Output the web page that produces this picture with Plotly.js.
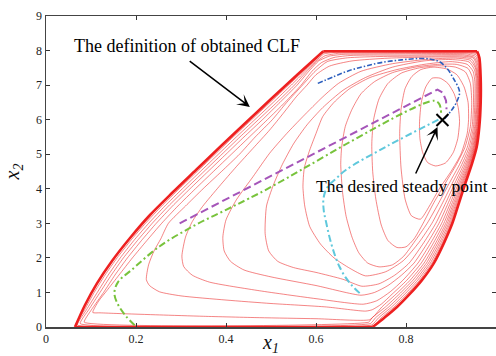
<!DOCTYPE html>
<html><head><meta charset="utf-8">
<script src="https://cdn.plot.ly/plotly-3.0.1.min.js"></script>
<style>html,body{margin:0;padding:0;background:#fff}#chart{width:496px;height:356px}</style>
</head><body><div id="chart"></div>
<script>
// ---- outer boundary of the CLF domain ----
const bndX = [0.0644,0.0867,0.1133,0.1467,0.1867,0.2311,0.28,0.3333,0.3889,0.4444,0.5,0.5578,0.6162,0.958,0.963,0.966,0.966,0.963,0.957,0.946,0.933,0.918,0.903,0.885,0.862,0.835,0.808,0.78,0.752,0.726,0.0644];
const bndY = [0,0.637,1.262,1.91,2.575,3.241,3.877,4.543,5.237,5.917,6.597,7.292,7.98,7.98,7.8,7.2,6.5,5.8,5.2,4.7,4.2,3.6,3.0,2.45,1.85,1.35,0.95,0.58,0.27,0,0];
// ---- level curves close to the boundary ----
const b1x = [0.066,0.086,0.107,0.131,0.158,0.188,0.221,0.257,0.296,0.336,0.376,0.416,0.457,0.498,0.539,0.572,0.597,0.613,0.63,0.95,0.961,0.964,0.9652,0.9652,0.9622,0.956,0.9446,0.9312,0.9158,0.9002,0.8816,0.8578,0.83,0.8022,0.7736,0.7452,0.727,0.066];
const b1y = [0.03,0.5,1.0,1.5,2.0,2.5,3.0,3.5,4.0,4.5,5.0,5.5,6.0,6.5,7.0,7.4,7.7,7.92,7.968,7.97,7.92,7.75,7.2,6.5,5.8,5.2,4.7,4.2,3.6,3.0,2.45,1.85,1.35,0.95,0.58,0.27,0.03,0.03];
const b2x = [0.07,0.09,0.114,0.138,0.165,0.195,0.228,0.264,0.303,0.343,0.383,0.423,0.464,0.505,0.545,0.576,0.600,0.617,0.64,0.945,0.959,0.963,0.9645,0.9645,0.9615,0.955,0.9435,0.9297,0.9138,0.8978,0.8786,0.8542,0.8257,0.7972,0.768,0.7393,0.724,0.07];
const b2y = [0.06,0.5,1.0,1.5,2.0,2.5,3.0,3.5,4.0,4.5,5.0,5.5,6.0,6.5,7.0,7.4,7.7,7.9,7.945,7.948,7.9,7.7,7.2,6.5,5.8,5.2,4.7,4.2,3.6,3.0,2.45,1.85,1.35,0.95,0.58,0.27,0.06,0.06];
const b3x = [0.076,0.095,0.12,0.145,0.172,0.203,0.236,0.272,0.311,0.351,0.391,0.431,0.472,0.513,0.552,0.580,0.603,0.62,0.65,0.94,0.957,0.962,0.9637,0.9637,0.9607,0.954,0.9421,0.9279,0.9116,0.895,0.8751,0.85,0.8207,0.7914,0.7616,0.7324,0.721,0.076];
const b3y = [0.1,0.5,1.0,1.5,2.0,2.5,3.0,3.5,4.0,4.5,5.0,5.5,6.0,6.5,7.0,7.4,7.7,7.85,7.92,7.925,7.87,7.65,7.2,6.5,5.8,5.2,4.7,4.2,3.6,3.0,2.45,1.85,1.35,0.95,0.58,0.27,0.1,0.1];
const b4x = [0.085,0.101,0.128,0.153,0.181,0.212,0.245,0.281,0.32,0.36,0.4,0.44,0.481,0.52,0.558,0.584,0.606,0.63,0.66,0.935,0.955,0.961,0.9628,0.9628,0.9598,0.9528,0.9406,0.926,0.909,0.8918,0.8712,0.8454,0.8152,0.785,0.7544,0.7248,0.717,0.085];
const b4y = [0.14,0.5,1.0,1.5,2.0,2.5,3.0,3.5,4.0,4.5,5.0,5.5,6.0,6.5,7.0,7.4,7.7,7.84,7.89,7.9,7.83,7.6,7.2,6.5,5.8,5.2,4.7,4.2,3.6,3.0,2.45,1.85,1.35,0.95,0.58,0.27,0.14,0.14];
// ---- inner level curves (C1 innermost) ----
const c1x = [0.830,0.834,0.844,0.858,0.876,0.893,0.907,0.916,0.919,0.915,0.905,0.888,0.866,0.848,0.837,0.831,0.830];
const c1y = [5.9,6.5,6.95,7.2,7.2,7.05,6.75,6.35,5.95,5.45,5.05,4.75,4.66,4.76,5.05,5.45,5.9];
const c2x = [0.786,0.789,0.798,0.813,0.833,0.86,0.89,0.913,0.929,0.938,0.939,0.936,0.922,0.90,0.874,0.852,0.832,0.812,0.798,0.789,0.786];
const c2y = [5.6,6.3,6.9,7.25,7.45,7.52,7.47,7.3,6.95,6.5,6.0,5.6,5.0,4.5,4.0,3.5,3.12,3.22,3.7,4.6,5.6];
const c3x = [0.724,0.728,0.74,0.76,0.79,0.83,0.87,0.91,0.932,0.943,0.946,0.943,0.931,0.912,0.889,0.862,0.838,0.818,0.80,0.78,0.76,0.745,0.733,0.726,0.724];
const c3y = [5.3,6.0,6.6,7.05,7.35,7.5,7.56,7.52,7.38,7.05,6.5,5.8,5.2,4.7,4.2,3.6,3.0,2.55,2.32,2.3,2.5,2.95,3.7,4.5,5.3];
const c4x = [0.655,0.657,0.665,0.68,0.70,0.73,0.77,0.82,0.87,0.912,0.938,0.948,0.95,0.947,0.9362,0.9188,0.8978,0.8732,0.847,0.818,0.795,0.77,0.74,0.715,0.695,0.68,0.667,0.659,0.655];
const c4y = [4.7,5.2,5.8,6.3,6.75,7.1,7.36,7.52,7.6,7.6,7.48,7.2,6.5,5.8,5.2,4.7,4.2,3.6,3.0,2.45,2.05,1.8,1.74,1.85,2.15,2.6,3.2,3.9,4.7];
const c5x = [0.571,0.574,0.586,0.60,0.615,0.64,0.675,0.72,0.78,0.84,0.9,0.936,0.949,0.953,0.953,0.95,0.9401,0.9239,0.9044,0.8816,0.8575,0.829,0.794,0.755,0.71,0.675,0.64,0.61,0.586,0.575,0.571];
const c5y = [4.06,4.6,5.12,5.6,6.09,6.5,6.9,7.22,7.45,7.6,7.68,7.6,7.4,7.1,6.5,5.8,5.2,4.7,4.2,3.6,3.0,2.45,1.92,1.6,1.48,1.7,2.0,2.4,2.91,3.5,4.06];
const c6x = [0.487,0.49,0.505,0.525,0.55,0.58,0.615,0.66,0.71,0.77,0.84,0.9,0.94,0.952,0.9555,0.9555,0.9525,0.9434,0.9282,0.9099,0.8886,0.8663,0.8399,0.807,0.775,0.74,0.702,0.66,0.6,0.55,0.515,0.495,0.487];
const c6y = [2.7,3.5,4.1,4.7,5.3,5.85,6.35,6.85,7.22,7.52,7.7,7.74,7.67,7.45,7.2,6.5,5.8,5.2,4.7,4.2,3.6,3.0,2.45,1.85,1.5,1.25,1.18,1.38,1.58,1.72,1.9,2.2,2.7];
const c7x = [0.393,0.40,0.423,0.46,0.497,0.535,0.571,0.615,0.65,0.70,0.77,0.85,0.91,0.942,0.954,0.9575,0.9575,0.9545,0.946,0.9316,0.9143,0.8942,0.8733,0.8485,0.8178,0.79,0.76,0.73,0.70,0.6,0.5,0.44,0.41,0.396,0.393];
const c7y = [2.6,3.1,3.68,4.35,5.03,5.6,6.09,6.66,7.05,7.4,7.62,7.75,7.78,7.72,7.5,7.2,6.5,5.8,5.2,4.7,4.2,3.6,3.0,2.45,1.85,1.5,1.2,1.0,0.92,1.2,1.45,1.65,1.9,2.2,2.6];
const c8x = [0.302,0.31,0.325,0.348,0.385,0.423,0.46,0.497,0.527,0.556,0.58,0.6,0.63,0.68,0.76,0.85,0.92,0.946,0.956,0.9592,0.9592,0.9562,0.9482,0.9344,0.918,0.899,0.8792,0.8558,0.8266,0.7928,0.765,0.735,0.705,0.6,0.474,0.363,0.325,0.306,0.302];
const c8y = [2.05,2.6,3.05,3.49,4.07,4.64,5.17,5.70,6.18,6.66,7.0,7.3,7.55,7.7,7.78,7.81,7.81,7.75,7.5,7.2,6.5,5.8,5.2,4.7,4.2,3.6,3.0,2.45,1.85,1.35,1.02,0.76,0.66,0.82,1.05,1.3,1.5,1.75,2.05];
const c9x = [0.223,0.228,0.24,0.255,0.272,0.31,0.349,0.39,0.43,0.465,0.503,0.535,0.57,0.598,0.625,0.67,0.75,0.85,0.925,0.95,0.958,0.9606,0.9606,0.9576,0.95,0.9368,0.9211,0.9029,0.8841,0.8618,0.8339,0.8015,0.7691,0.745,0.725,0.71,0.623,0.5,0.4,0.3,0.252,0.23,0.223];
const c9y = [1.37,1.8,2.2,2.55,3.0,3.5,4.0,4.5,5.0,5.5,6.0,6.5,7.0,7.4,7.68,7.79,7.83,7.84,7.84,7.78,7.52,7.2,6.5,5.8,5.2,4.7,4.2,3.6,3.0,2.45,1.85,1.35,0.95,0.66,0.5,0.46,0.58,0.68,0.78,0.9,1.02,1.2,1.37];
const c10x = [0.104,0.117,0.135,0.162,0.192,0.224,0.257,0.293,0.332,0.372,0.412,0.452,0.492,0.531,0.567,0.591,0.612,0.64,0.68,0.8,0.93,0.952,0.96,0.9618,0.9618,0.9588,0.9515,0.9389,0.9238,0.9062,0.8883,0.8669,0.8402,0.809,0.7778,0.7464,0.73,0.719,0.6,0.474,0.35,0.252,0.16,0.12,0.104];
const c10y = [0.42,0.75,1.05,1.5,2.0,2.5,3.0,3.5,4.0,4.5,5.0,5.5,6.0,6.5,7.0,7.4,7.65,7.8,7.86,7.87,7.87,7.8,7.55,7.2,6.5,5.8,5.2,4.7,4.2,3.6,3.0,2.45,1.85,1.35,0.95,0.58,0.33,0.21,0.24,0.27,0.31,0.35,0.39,0.41,0.42];
// ---- closed-loop trajectories ----
const blueX = [0.604,0.64,0.674,0.71,0.748,0.79,0.83,0.855,0.874,0.89,0.905,0.919,0.912,0.9,0.885];
const blueY = [7.05,7.25,7.42,7.55,7.66,7.73,7.77,7.75,7.68,7.5,7.2,6.8,6.5,6.25,6.02];
const purpleX = [0.297,0.58,0.87,0.882,0.889,0.89];
const purpleY = [3.0,4.91,6.87,6.78,6.55,6.3];
const greenX = [0.197,0.178,0.16,0.152,0.16,0.19,0.252,0.326,0.4,0.474,0.863,0.874,0.878];
const greenY = [0.05,0.31,0.65,0.98,1.3,1.65,2.33,2.91,3.39,3.87,6.55,6.45,6.2];
const cyanX = [0.697,0.68,0.665,0.652,0.643,0.632,0.623,0.617,0.617,0.626,0.645,0.667,0.756,0.872];
const cyanY = [0.98,1.2,1.45,1.75,2.04,2.5,3.0,3.4,3.75,4.06,4.3,4.55,5.22,6.0];
// ---- steady point ----
const steadyX = [0.881];
const steadyY = [5.99];
// ---- ticks ----
const xTicks = [0,0.2,0.4,0.6,0.8];
const xTickText = ['0','0.2','0.4','0.6','0.8'];
const yTicks = [0,1,2,3,4,5,6,7,8,9];

const thin = {color:'rgba(235,35,35,0.62)', width:0.9, shape:'spline', smoothing:0.6};
const thinB = {color:'rgba(235,35,35,0.62)', width:0.9, shape:'spline', smoothing:0.4};
const thick = {color:'rgb(238,32,32)', width:2.6};
const traces = [];
[[b1x,b1y],[b2x,b2y],[b3x,b3y],[b4x,b4y]].forEach(p=>traces.push({x:p[0],y:p[1],mode:'lines',line:thinB,hoverinfo:'skip'}));
[[c1x,c1y],[c2x,c2y],[c3x,c3y],[c4x,c4y],[c5x,c5y],[c6x,c6y],[c7x,c7y],[c8x,c8y],[c9x,c9y],[c10x,c10y]].forEach(p=>traces.push({x:p[0],y:p[1],mode:'lines',line:thin,hoverinfo:'skip'}));
// boundary drawn in pieces: smooth left side, straight top, smooth right side, straight bottom
[[0,13,true],[12,14,false],[13,30,true],[29,31,false]].forEach(s=>{
  traces.push({x:bndX.slice(s[0],s[1]), y:bndY.slice(s[0],s[1]), mode:'lines',
    line:Object.assign({}, thick, s[2]?{shape:'spline',smoothing:0.8}:{})});
});
traces.push({x:purpleX,y:purpleY,mode:'lines',line:{color:'rgb(165,85,185)',width:2,dash:'8px,4px'}});
traces.push({x:greenX,y:greenY,mode:'lines',line:{color:'rgb(120,195,60)',width:2,dash:'7px,3px,2px,3px',shape:'spline'}});
traces.push({x:cyanX,y:cyanY,mode:'lines',line:{color:'rgb(95,200,220)',width:2,dash:'7px,3px,2px,3px',shape:'spline'}});
traces.push({x:blueX,y:blueY,mode:'lines',line:{color:'rgb(45,95,190)',width:1.6,dash:'5px,2px,1.5px,2px',shape:'spline'}});
traces.push({x:steadyX,y:steadyY,mode:'markers',marker:{symbol:'x-thin-open',size:12,color:'#000',line:{color:'#000',width:2}}});

const serif = 'Liberation Serif, Times New Roman, serif';
const axisCommon = {showgrid:false, zeroline:false, showline:true, linecolor:'#444', linewidth:1.5, mirror:'ticks',
  ticks:'inside', ticklen:4, tickwidth:1, tickcolor:'#333', tickfont:{family:serif,size:12,color:'#222'}};
const layout = {
  width:496, height:356, margin:{l:46,r:0,t:16,b:29},
  paper_bgcolor:'#fff', plot_bgcolor:'#fff', showlegend:false,
  xaxis:Object.assign({}, axisCommon, {range:[0,1], tickvals:xTicks, ticktext:xTickText,
    title:{text:'<i>x<sub>1</sub></i>', font:{family:serif,size:20,color:'#111'}, standoff:8}}),
  yaxis:Object.assign({}, axisCommon, {range:[0,9], tickvals:yTicks,
    title:{text:'<i>x<sub>2</sub></i>', font:{family:serif,size:20,color:'#111'}, standoff:11}}),
  annotations:[
    {x:0.313, y:8.13, xref:'x', yref:'y', text:'The definition of obtained CLF', showarrow:false,
     font:{family:serif,size:18,color:'#000'}},
    {x:0.453, y:6.37, xref:'x', yref:'y', ax:0.316, ay:7.73, axref:'x', ayref:'y', text:'', showarrow:true,
     arrowhead:3, arrowsize:1.4, arrowwidth:1.5, arrowcolor:'#000'},
    {x:0.791, y:4.09, xref:'x', yref:'y', text:'The desired steady point', showarrow:false,
     font:{family:serif,size:17.5,color:'#000'}},
    {x:0.870, y:5.79, xref:'x', yref:'y', ax:0.82, ay:4.40, axref:'x', ayref:'y', text:'', showarrow:true,
     arrowhead:3, arrowsize:1.4, arrowwidth:1.5, arrowcolor:'#000'}
  ]
};
Plotly.newPlot('chart', traces, layout, {displayModeBar:false, staticPlot:true});
</script></body></html>
